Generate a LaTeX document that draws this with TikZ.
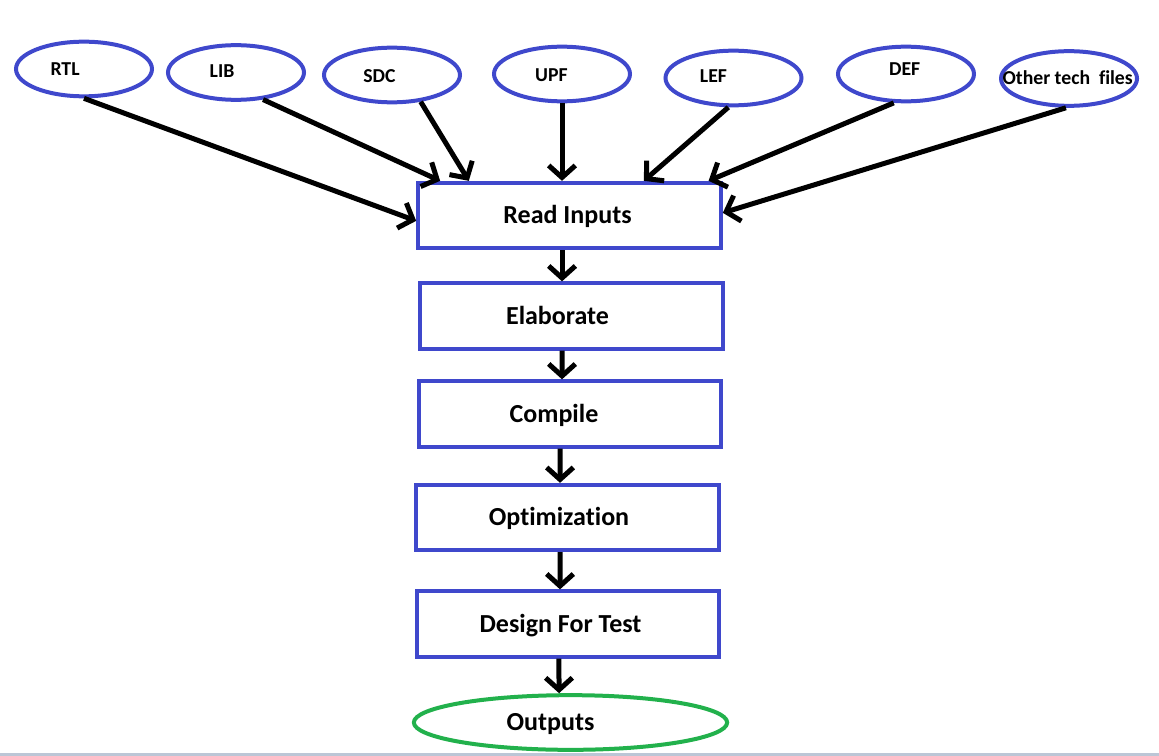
\documentclass[tikz,border=0pt]{standalone}
\usepackage{fontspec}
\setmainfont{Carlito}[Ligatures=NoCommon]
\usetikzlibrary{shapes.geometric,arrows.meta}
\definecolor{paintblue}{RGB}{63,72,204}
\definecolor{paintgreen}{RGB}{34,177,76}
\definecolor{barline}{RGB}{188,198,214}

\begin{document}
\begin{tikzpicture}[x=0.75pt,y=-0.75pt,
		infile/.style={ellipse, draw=paintblue, line width=3pt, minimum width=102pt, minimum height=41pt, inner sep=0pt},
		stage/.style={rectangle, draw=paintblue, line width=3pt, minimum width=227pt, minimum height=49pt, inner sep=0pt},
		infont/.style={font=\bfseries\fontsize{14.8}{17}\selectfont, text height=9.5pt, text depth=0pt, inner sep=0pt},
		stagefont/.style={font=\bfseries\fontsize{19.5}{23}\selectfont, text height=12.6pt, text depth=0pt, inner sep=0pt},
		flow/.style={line width=3.75pt, -{Straight Barb[length=9pt,width=20pt]}}]
		\useasboundingbox (0,0) rectangle (1159,756);

		\node[infile, label={[infont,xshift=-14.2pt]center:RTL}] (rtl) at (84,69) {};
		\node[infile, label={[infont,xshift=-10.5pt,yshift=0.7pt]center:LIB}] (lib) at (236,72.5) {};
		\node[infile, label={[infont,xshift=-9.4pt,yshift=-0.7pt]center:SDC}] (sdc) at (392,75) {};
		\node[infile, label={[infont,xshift=-8pt,yshift=-1pt]center:UPF}] (upf) at (562,74) {};
		\node[infile, label={[infont,xshift=-15pt,yshift=1.5pt]center:LEF}] (lef) at (733.5,78) {};
		\node[infile, label={[infont,xshift=-1pt,yshift=3.4pt]center:DEF}] (def) at (906,74) {};
		\node[infile, label={[infont,xshift=-1pt]center:Other tech~~files}] (oth) at (1069,78.5) {};

		\node[stage, label={[stagefont,xshift=-1.5pt]center:Read Inputs}] (read) at (569.5,215.5) {};
		\node[stage, label={[stagefont,xshift=-10.5pt]center:Elaborate}] (elab) at (571.5,316) {};
		\node[stage, label={[stagefont,xshift=-12pt]center:Compile}] (comp) at (570,414) {};
		\node[stage, label={[stagefont,xshift=-6.4pt]center:Optimization}] (opt) at (567.5,517.5) {};
		\node[stage, label={[stagefont,xshift=-5.6pt]center:Design For Test}] (dft) at (568,624) {};
		\node[ellipse, draw=paintgreen, line width=3pt, minimum width=235pt, minimum height=41pt, inner sep=0pt,
			label={[stagefont,xshift=-15pt]center:Outputs}] (out) at (570.5,722.5) {};

		\draw[flow] (rtl.south) -- (read.182);
		\draw[flow] (lib.-45) -- (read.165.8);
		\draw[flow] (sdc.-43) -- (read.161.4);
		\draw[flow] (upf.south) -- (upf.south |- read.north);
		\draw[flow] (lef.-100) -- (read.25.8);
		\draw[flow] (def.-113) -- (read.14);
		\draw[flow] (oth.-96) -- (read.1);

		\draw[flow] ([xshift=-5.6pt]read.south) -- ([xshift=-7.1pt]elab.north);
		\draw[flow] ([xshift=-7.1pt]elab.south) -- ([xshift=-6pt]comp.north);
		\draw[flow] ([xshift=-7.5pt]comp.south) -- ([xshift=-5.6pt]opt.north);
		\draw[flow] ([xshift=-5.6pt]opt.south) -- ([xshift=-6pt]dft.north);
		\draw[flow] ([xshift=-6.8pt]dft.south) -- ([xshift=-8.6pt]out.north);

		%\draw[barline] (0,752) -- (1159,752);
		\fill[barline] (0,752.5) rectangle (1159,756);
	\end{tikzpicture}
\end{document}
